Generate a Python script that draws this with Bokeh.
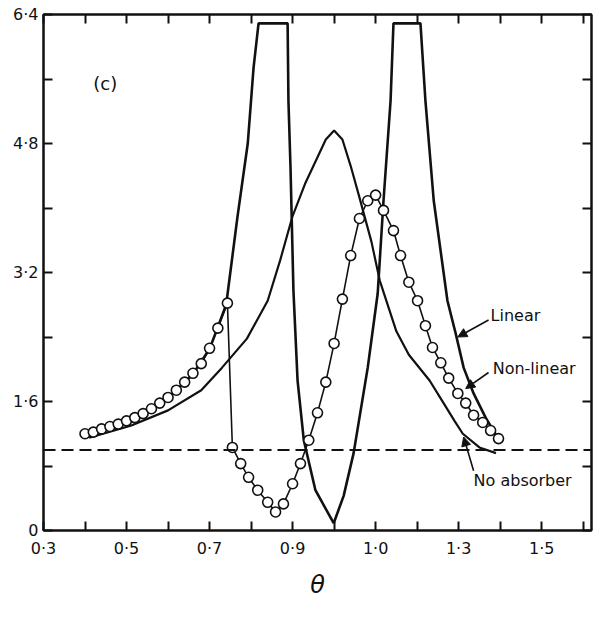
from bokeh.plotting import figure
from bokeh.models import FixedTicker, LinearAxis, Range1d, Label, Arrow, NormalHead, Span
from bokeh.embed import file_html
from bokeh.resources import INLINE

# ---- data ----
# Non-linear absorber (circles), lower-frequency branch, then jump, then upper branch
nl_x = [0.40, 0.42, 0.44, 0.46, 0.48, 0.50, 0.52, 0.54, 0.56, 0.58, 0.60, 0.62, 0.64, 0.66, 0.68, 0.70, 0.72, 0.743,
        0.755, 0.775, 0.794, 0.816, 0.840, 0.859, 0.878, 0.900, 0.919, 0.939, 0.960, 0.980, 1.000, 1.020,
        1.040, 1.061, 1.081, 1.100, 1.119, 1.143, 1.160, 1.180, 1.201, 1.220, 1.237, 1.257, 1.276, 1.298,
        1.317, 1.336, 1.358, 1.377, 1.396]
nl_y = [1.20, 1.22, 1.26, 1.29, 1.32, 1.36, 1.40, 1.45, 1.51, 1.58, 1.65, 1.74, 1.84, 1.95, 2.07, 2.26, 2.51, 2.82,
        1.03, 0.83, 0.66, 0.50, 0.35, 0.23, 0.33, 0.58, 0.83, 1.12, 1.46, 1.84, 2.32, 2.87,
        3.41, 3.87, 4.09, 4.16, 3.97, 3.72, 3.41, 3.08, 2.85, 2.54, 2.27, 2.08, 1.89, 1.70,
        1.58, 1.43, 1.34, 1.24, 1.14]

# Linear absorber (two peaks, clipped at the top of the plot)
lin_x = [0.40, 0.50, 0.60, 0.66, 0.70, 0.74, 0.767, 0.792, 0.806, 0.818, 0.888, 0.890, 0.895, 0.902, 0.912,
         0.927, 0.955, 0.999, 1.023, 1.047, 1.081, 1.105, 1.119, 1.136, 1.143, 1.208, 1.220, 1.240, 1.273,
         1.293, 1.312, 1.336, 1.365, 1.394]
lin_y = [1.19, 1.35, 1.64, 1.94, 2.25, 2.80, 3.88, 4.80, 5.74, 6.29, 6.29, 5.33, 4.50, 2.98, 1.86,
         1.12, 0.50, 0.09, 0.43, 0.96, 2.02, 2.94, 4.09, 5.33, 6.29, 6.29, 5.33, 4.09, 2.85,
         2.44, 2.02, 1.70, 1.40, 1.15]

# No absorber (single resonance)
na_x = [0.41, 0.51, 0.60, 0.68, 0.73, 0.79, 0.84, 0.87, 0.90, 0.93, 0.96, 0.98, 1.00, 1.02, 1.04, 1.06,
        1.09, 1.11, 1.15, 1.18, 1.23, 1.26, 1.29, 1.31, 1.35, 1.39]
na_y = [1.15, 1.30, 1.49, 1.74, 2.02, 2.38, 2.85, 3.35, 3.90, 4.30, 4.63, 4.85, 4.96, 4.85, 4.52, 4.15,
        3.58, 3.10, 2.47, 2.18, 1.86, 1.61, 1.36, 1.20, 1.03, 0.96]

ref_level = 1.0  # dashed reference line

x_label_ticks = [0.3, 0.5, 0.7, 0.9, 1.1, 1.3, 1.5]
x_label_text = ["0·3", "0·5", "0·7", "0·9", "1·0", "1·3", "1·5"]
x_minor_ticks = [0.4, 0.6, 0.8, 1.0, 1.2, 1.4, 1.6]
y_label_ticks = [0, 1.6, 3.2, 4.8, 6.4]
y_label_text = ["0", "1·6", "3·2", "4·8", "6·4"]
y_minor_ticks = [0.8, 2.4, 4.0, 5.6]

FONT = "DejaVu Sans"
INK = "#111111"

p = figure(width=600, height=617, x_range=Range1d(0.3, 1.62), y_range=Range1d(0, 6.4),
           output_backend="svg", toolbar_location=None,
           min_border_left=43, min_border_right=9, min_border_top=14, min_border_bottom=87)
p.grid.visible = False
p.outline_line_color = INK
p.outline_line_width = 2
p.background_fill_color = "white"
p.border_fill_color = "white"


def style_axis(ax):
    ax.axis_line_color = INK
    ax.axis_line_width = 2
    ax.major_tick_in = 9
    ax.major_tick_out = 0
    ax.minor_tick_in = 9
    ax.minor_tick_out = 0
    ax.major_tick_line_width = 2
    ax.minor_tick_line_width = 2
    ax.major_tick_line_color = INK
    ax.minor_tick_line_color = INK
    ax.major_label_text_font = FONT
    ax.major_label_text_color = INK
    ax.major_label_text_font_size = "16px"


xa = p.xaxis[0]
xa.ticker = FixedTicker(ticks=x_label_ticks, minor_ticks=x_minor_ticks)
xa.major_label_overrides = dict(zip(x_label_ticks, x_label_text))
style_axis(xa)
xa.major_label_standoff = 8
xa.axis_label = "θ"
xa.axis_label_text_font = FONT
xa.axis_label_text_font_style = "italic"
xa.axis_label_text_font_size = "24px"
xa.axis_label_text_color = INK
xa.axis_label_standoff = 10

ya = p.yaxis[0]
ya.ticker = FixedTicker(ticks=y_label_ticks, minor_ticks=y_minor_ticks)
ya.major_label_overrides = dict(zip(y_label_ticks, y_label_text))
style_axis(ya)
ya.major_label_standoff = 5

# right and top axes: ticks only (given as minor ticks so that no labels are drawn)
ra = LinearAxis(ticker=FixedTicker(ticks=[], minor_ticks=y_label_ticks + y_minor_ticks))
style_axis(ra)
p.add_layout(ra, "right")
ta = LinearAxis(ticker=FixedTicker(ticks=[], minor_ticks=x_label_ticks + x_minor_ticks))
style_axis(ta)
p.add_layout(ta, "above")

# reference dashed line
p.add_layout(Span(location=ref_level, dimension="width", line_color=INK, line_width=2, line_dash="12 6"))

# curves
p.line(na_x, na_y, line_color=INK, line_width=2.2)
p.line(lin_x, lin_y, line_color=INK, line_width=2.6)
p.line(nl_x, nl_y, line_color=INK, line_width=1.6)
p.scatter(nl_x, nl_y, marker="circle", size=10, line_color=INK, line_width=1.6, fill_color="white")

# annotations
p.add_layout(Label(x=1.377, y=2.67, text="Linear", text_baseline="middle", text_font=FONT,
                   text_font_size="16px", text_color=INK))
p.add_layout(Label(x=1.382, y=2.01, text="Non-linear", text_baseline="middle", text_font=FONT,
                   text_font_size="16px", text_color=INK))
p.add_layout(Label(x=1.336, y=0.62, text="No absorber", text_baseline="middle", text_font=FONT,
                   text_font_size="16px", text_color=INK))
p.add_layout(Label(x=0.42, y=5.55, text="(c)", text_baseline="middle", text_font=FONT,
                   text_font_size="18px", text_color=INK))

head = dict(size=9, fill_color=INK, line_color=INK)
p.add_layout(Arrow(end=NormalHead(**head), x_start=1.372, y_start=2.61, x_end=1.298, y_end=2.40,
                   line_color=INK, line_width=1.6))
p.add_layout(Arrow(end=NormalHead(**head), x_start=1.372, y_start=1.96, x_end=1.317, y_end=1.76,
                   line_color=INK, line_width=1.6))
p.add_layout(Arrow(end=NormalHead(**head), x_start=1.336, y_start=0.74, x_end=1.312, y_end=1.16,
                   line_color=INK, line_width=1.6))

open("out.html", "w").write(file_html(p, INLINE))
